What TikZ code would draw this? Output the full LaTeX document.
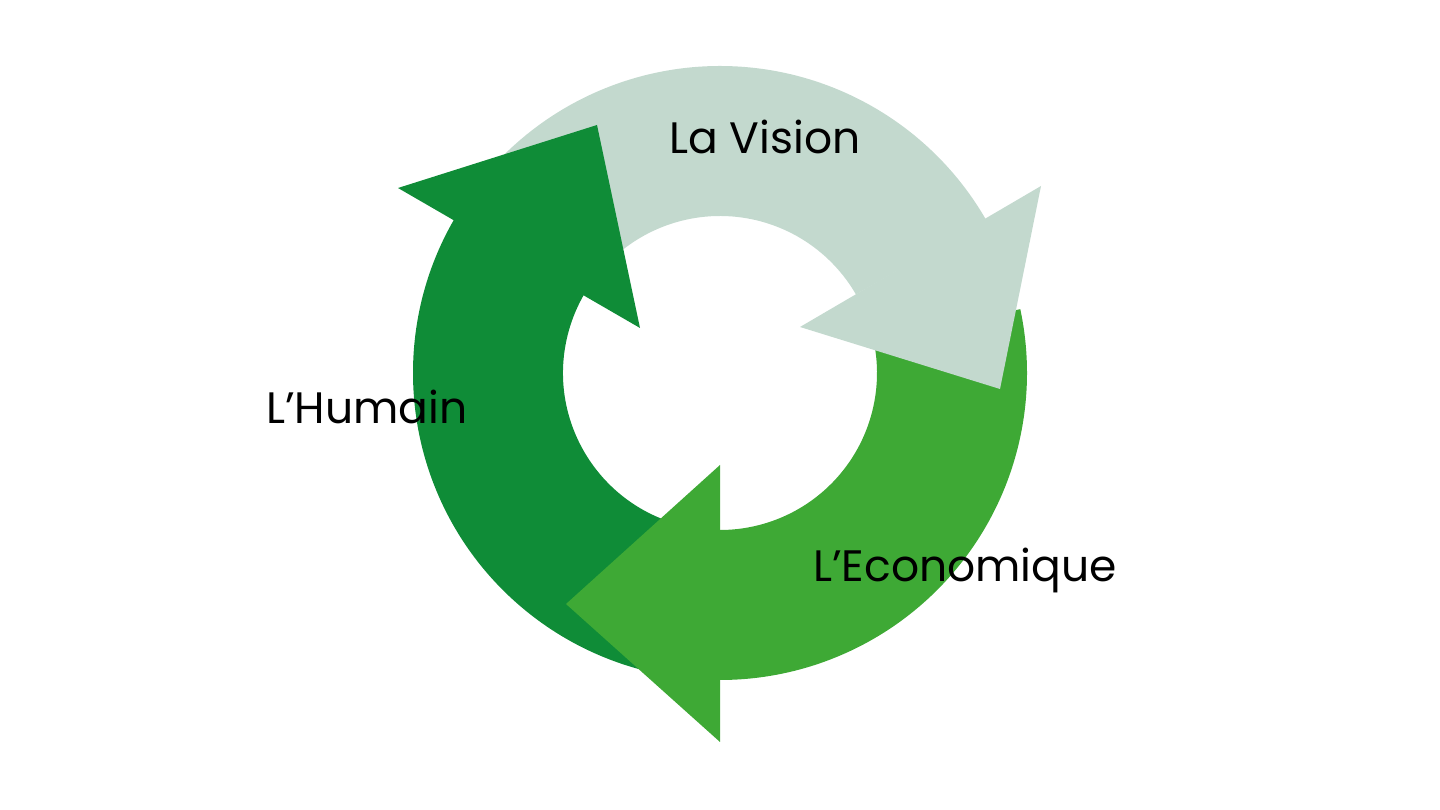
\documentclass[tikz,border=0pt]{standalone}
\usepackage{fontspec}
\setmainfont{Poppins}
\usetikzlibrary{calc}
\definecolor{cgray}{HTML}{C3D9CE}
\definecolor{cdark}{HTML}{0F8C37}
\definecolor{cmed}{HTML}{3EA935}
\tikzset{lbl/.style={font=\fontsize{44}{50}\selectfont, text=black, inner sep=0pt}}
\newcommand{\ringseg}[4]{\fill[#1] ($(c)+(#2:307)$) arc[start angle=#2,end angle=#3,radius=307] -- ($(c)+(#3:157)$) arc[start angle=#3,end angle=#2,radius=157] -- cycle;}
\begin{document}
\begin{tikzpicture}[x=1pt,y=1pt]
\useasboundingbox (0,0) rectangle (1440,810);
\coordinate (c) at (720,437);
\ringseg{cdark}{140}{256}{}
\ringseg{cmed}{-90}{12}{}
\ringseg{cgray}{30}{142}{}
\fill[cgray] (1041,624) -- (800,483) -- (1000,421) -- cycle;
\fill[cdark] (398,622) -- (597,685) -- (640,482) -- cycle;
\fill[cmed] (720,345) -- (720,68) -- (566,206) -- cycle;
\node[lbl] (vision) at (765,673) {La Vision};
\node[lbl] (humain) at (367,403) {L’Humain};
\node[lbl] (eco) at (965,240) {L’Economique};
\end{tikzpicture}
\end{document}
